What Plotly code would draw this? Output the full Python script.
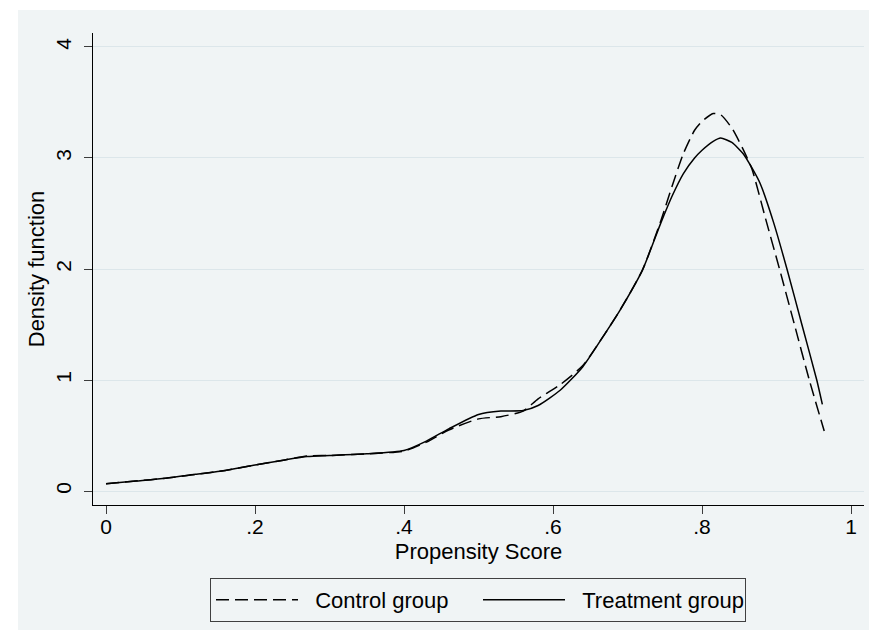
import plotly.graph_objects as go

# Data (kernel density estimates)
ctrl_x = [0.0, 0.04, 0.08, 0.12, 0.16, 0.20, 0.24, 0.27, 0.30, 0.35, 0.40, 0.43, 0.46,
          0.50, 0.53, 0.56, 0.58, 0.61, 0.64, 0.67, 0.69, 0.72, 0.745, 0.76, 0.775,
          0.79, 0.80, 0.815, 0.825, 0.84, 0.855, 0.867, 0.885, 0.904, 0.924, 0.944, 0.964]
ctrl_y = [0.065, 0.09, 0.115, 0.15, 0.185, 0.235, 0.28, 0.315, 0.32, 0.335, 0.36, 0.44, 0.55,
          0.65, 0.67, 0.72, 0.83, 0.96, 1.13, 1.42, 1.63, 1.99, 2.44, 2.75, 3.04,
          3.25, 3.33, 3.40, 3.39, 3.27, 3.08, 2.90, 2.46, 2.00, 1.50, 1.00, 0.54]

treat_x = [0.0, 0.04, 0.08, 0.12, 0.16, 0.20, 0.24, 0.27, 0.30, 0.35, 0.40, 0.43, 0.46,
           0.50, 0.53, 0.56, 0.58, 0.61, 0.64, 0.67, 0.69, 0.72, 0.745, 0.76, 0.775,
           0.79, 0.80, 0.815, 0.825, 0.84, 0.855, 0.867, 0.878, 0.896, 0.914, 0.934, 0.954, 0.9615]
treat_y = [0.065, 0.09, 0.115, 0.15, 0.185, 0.235, 0.28, 0.31, 0.32, 0.335, 0.365, 0.45, 0.56,
           0.69, 0.72, 0.725, 0.77, 0.91, 1.12, 1.42, 1.63, 1.99, 2.42, 2.66, 2.86,
           3.00, 3.07, 3.15, 3.18, 3.14, 3.04, 2.91, 2.77, 2.42, 2.00, 1.50, 1.00, 0.78]

x_tickvals = [0, 0.2, 0.4, 0.6, 0.8, 1]
x_ticktext = ["0", ".2", ".4", ".6", ".8", "1"]
y_tickvals = [0, 1, 2, 3, 4]
y_ticktext = ["0", "1", "2", "3", "4"]

BG = "rgb(240,244,245)"
GRID = "rgb(220,230,234)"
FONT = "Liberation Sans, Arial, sans-serif"
NB = "\u00a0\u00a0"

fig = go.Figure()
fig.add_trace(go.Scatter(x=ctrl_x, y=ctrl_y, mode="lines", name=NB + "Control group",
                         line=dict(color="black", width=1.5, dash="13px,6px", shape="spline",
                                   smoothing=0.6)))
fig.add_trace(go.Scatter(x=treat_x, y=treat_y, mode="lines", name=NB + "Treatment group" + NB,
                         line=dict(color="black", width=1.5, shape="spline", smoothing=0.6)))

# the page body adds an 8 px offset; figure sized to fill the rest of the window
OFF = 8
W, H = 877 - OFF, 630 - OFF
L, T = 93 - OFF, 33 - OFF
R = W - (864 - OFF)
B = H - (505 - OFF)
pw = W - L - R
ph = H - T - B

# light graph region (white strip on top and left as in the reference)
fig.add_shape(type="rect", xref="paper", yref="paper", layer="below",
              x0=(18 - OFF - L) / pw, x1=(W - L) / pw + 0.01,
              y0=-(B + 5) / ph, y1=(ph + T - (10 - OFF)) / ph,
              fillcolor=BG, line=dict(width=0))

fig.update_layout(
    width=W, height=H,
    margin=dict(l=L, r=R, t=T, b=B, pad=0, autoexpand=False),
    paper_bgcolor="white",
    plot_bgcolor=BG,
    font=dict(family=FONT, color="black", size=21),
    showlegend=True,
    legend=dict(
        orientation="h", x=(478 - OFF) / W, xanchor="center", xref="container",
        y=1 - (578 - OFF) / H, yanchor="top", yref="container",
        bordercolor="rgb(64,64,64)", borderwidth=1, bgcolor=BG,
        font=dict(size=22, family=FONT, color="black"),
        itemwidth=82, entrywidth=170, entrywidthmode="pixels",
        tracegroupgap=0,
    ),
    xaxis=dict(
        range=[-0.01745, 1.0174], tickvals=x_tickvals, ticktext=x_ticktext,
        showgrid=False, zeroline=False, showline=True, linecolor="black", linewidth=1.2,
        ticks="outside", ticklen=8, tickcolor="rgb(60,60,60)", tickwidth=1.2,
        tickfont=dict(size=21), ticklabelstandoff=-5, automargin=False,
        title=dict(text="Propensity Score", font=dict(size=22), standoff=6),
    ),
    yaxis=dict(
        range=[-0.126, 4.126], tickvals=y_tickvals, ticktext=y_ticktext,
        showgrid=True, gridcolor=GRID, gridwidth=1.2, zeroline=False,
        showline=True, linecolor="black", linewidth=1.2,
        ticks="outside", ticklen=8, tickcolor="rgb(60,60,60)", tickwidth=1.2,
        tickangle=-90, tickfont=dict(size=21), ticklabelstandoff=5, automargin=False,
        title=dict(text="Density function", font=dict(size=22), standoff=0),
    ),
)

fig.write_html("out.html")
